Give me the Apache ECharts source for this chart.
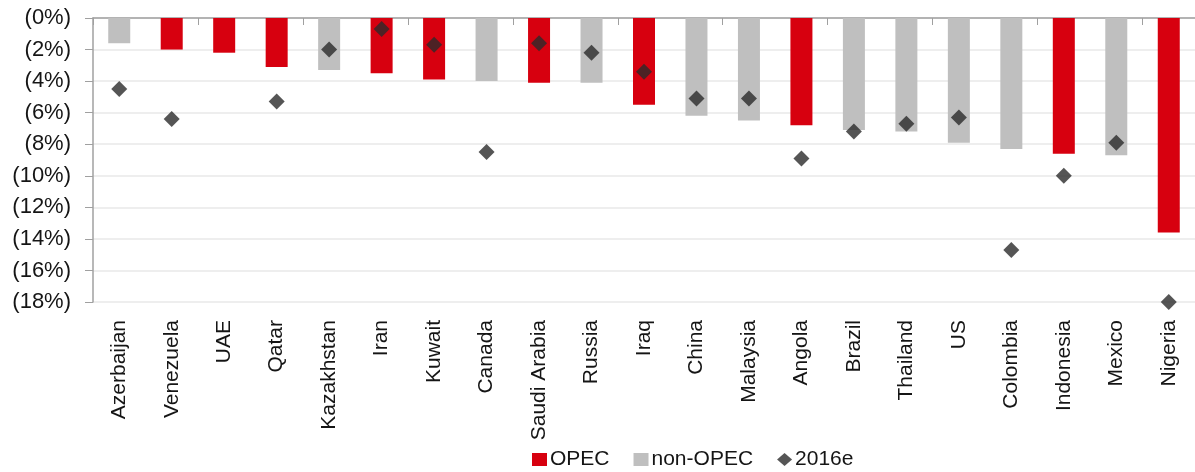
<!DOCTYPE html>
<html>
<head>
<meta charset="utf-8">
<script src="https://cdn.jsdelivr.net/npm/echarts@6/dist/echarts.min.js"></script>
<style>
html,body{margin:0;padding:0;background:#fff;}
#chart{width:1195px;height:472px;}
</style>
</head>
<body>
<div id="chart"></div>
<script>
const categories = ['Azerbaijan','Venezuela','UAE','Qatar','Kazakhstan','Iran','Kuwait','Canada','Saudi Arabia','Russia','Iraq','China','Malaysia','Angola','Brazil','Thailand','US','Colombia','Indonesia','Mexico','Nigeria'];
const isOPEC = [false,true,true,true,false,true,true,false,true,false,true,false,false,true,false,false,false,false,true,false,true];
const change2015 = [-1.6,-2.0,-2.2,-3.1,-3.3,-3.5,-3.9,-4.0,-4.1,-4.1,-5.5,-6.2,-6.5,-6.8,-7.1,-7.2,-7.9,-8.3,-8.6,-8.7,-13.6];
const est2016 = [-4.5,-6.4,null,-5.3,-2.0,-0.7,-1.7,-8.5,-1.6,-2.2,-3.4,-5.1,-5.1,-8.9,-7.2,-6.7,-6.3,-14.7,-10.0,-7.9,-18.0];
const yTicks = {min:-18, max:0, step:2};

const FONT = "'Liberation Sans', Arial, sans-serif";
const RED = '#D7000F', GREY = '#BFBFBF', DARK = '#2B2B2B';

const opecData = change2015.map((v,i)=> isOPEC[i] ? v : '-');
const nonOpecData = change2015.map((v,i)=> isOPEC[i] ? '-' : v);
const estData = est2016.map(v => v === null ? '-' : v);

const chart = echarts.init(document.getElementById('chart'), null, {renderer:'canvas'});
chart.setOption({
  animation:false,
  backgroundColor:'#fff',
  grid:{left:93, right:-3, top:18, bottom:170, containLabel:false},
  legend:{
    left:527, top:444,
    itemWidth:15, itemHeight:13, itemGap:24,
    textStyle:{fontFamily:FONT, fontSize:21, color:'#151515', padding:[0,0,0,-2]},
    data:[{name:'OPEC', icon:'rect'},{name:'non-OPEC', icon:'rect'},{name:'2016e', icon:'diamond'}]
  },
  xAxis:[
    {type:'category', data:categories, position:'top',
     axisLine:{show:true, onZero:false, lineStyle:{color:'#a0a0a0', width:1.5}},
     axisTick:{show:true, inside:true, length:7, lineStyle:{color:'#a0a0a0'}},
     axisLabel:{show:false}, splitLine:{show:false}},
    {type:'category', data:categories, position:'bottom',
     axisLine:{show:false, onZero:false}, axisTick:{show:false},
     axisLabel:{show:true, rotate:90, margin:18, interval:0, fontFamily:FONT, fontSize:21, color:'#151515'},
     splitLine:{show:false}}
  ],
  yAxis:{
    type:'value', min:yTicks.min, max:yTicks.max, interval:yTicks.step,
    axisLine:{show:true, lineStyle:{color:'#a0a0a0', width:1.5}},
    axisTick:{show:true, length:8, lineStyle:{color:'#a0a0a0'}},
    splitLine:{show:true, lineStyle:{color:'#e8e8e8', width:1.5}},
    axisLabel:{margin:22, fontFamily:FONT, fontSize:22, color:'#151515',
      formatter: v => '(' + Math.abs(Math.round(v)) + '%)'}
  },
  series:[
    {name:'OPEC', type:'bar', xAxisIndex:0, data:opecData, barWidth:22, barGap:'-100%',
     itemStyle:{color:RED}},
    {name:'non-OPEC', type:'bar', xAxisIndex:0, data:nonOpecData, barWidth:22, barGap:'-100%',
     itemStyle:{color:GREY}},
    {name:'2016e', type:'scatter', xAxisIndex:0, data:estData, symbol:'diamond', symbolSize:16,
     itemStyle:{color:DARK}, z:5}
  ]
});
</script>
</body>
</html>
